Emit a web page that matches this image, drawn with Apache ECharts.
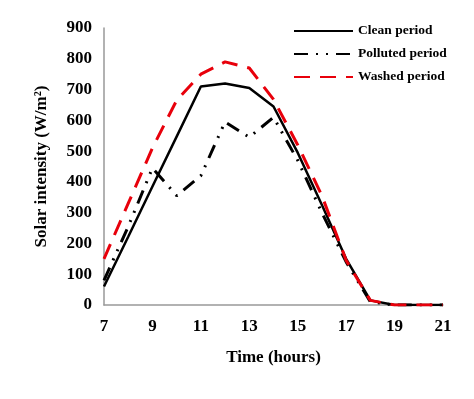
<!DOCTYPE html>
<html>
<head>
<meta charset="utf-8">
<script src="https://cdn.jsdelivr.net/npm/echarts@6/dist/echarts.min.js"></script>
<style>
  html, body { margin: 0; padding: 0; background: #fff; }
  #chart { width: 474px; height: 399px; }
</style>
</head>
<body>
<div id="chart"></div>
<script>
// hours of the day
const hours = ['7', '8', '9', '10', '11', '12', '13', '14', '15', '16', '17', '18', '19', '20', '21']
// solar intensity, W/m2
const clean = [60, 222, 385, 547, 710, 720, 705, 645, 495, 325, 150, 15, 0, 0, 0]
const polluted = [80, 255, 445, 355, 420, 595, 545, 610, 470, 300, 140, 10, 0, 0, 0]
const washed = [150, 330, 510, 665, 750, 790, 770, 668, 520, 355, 145, 15, 0, 0, 0]

const font = 'Liberation Serif'

let option = {
  animation: false,
  textStyle: { fontFamily: font },
  grid: { left: 104, right: 31, top: 28, bottom: 94 },
  legend: {
    left: 288,
    top: 19,
    orient: 'vertical',
    itemWidth: 59,
    itemHeight: 14,
    itemGap: 9,
    itemStyle: { opacity: 0 },
    textStyle: { fontFamily: font, fontWeight: 'bold', fontSize: 13.5, color: '#000' },
    data: ['Clean period', 'Polluted period', 'Washed period']
  },
  xAxis: {
    type: 'category',
    data: hours,
    boundaryGap: false,
    name: 'Time (hours)',
    nameLocation: 'middle',
    nameGap: 44,
    nameTextStyle: { fontFamily: font, fontWeight: 'bold', fontSize: 17, color: '#000' },
    axisLine: { lineStyle: { color: '#999', width: 1.5 } },
    axisTick: { show: false },
    axisLabel: { interval: 1, margin: 13, fontFamily: font, fontWeight: 'bold', fontSize: 17, color: '#000' },
    splitLine: { show: false }
  },
  yAxis: {
    type: 'value',
    min: 0,
    max: 900,
    interval: 100,
    name: 'Solar intensity (W/m²)',
    nameLocation: 'middle',
    nameGap: 54,
    nameTextStyle: { fontFamily: font, fontWeight: 'bold', fontSize: 17, color: '#000' },
    axisLine: { show: true, lineStyle: { color: '#999', width: 1.5 } },
    axisTick: { show: false },
    axisLabel: { margin: 12, fontFamily: font, fontWeight: 'bold', fontSize: 17, color: '#000' },
    splitLine: { show: false }
  },
  series: [
    {
      name: 'Clean period',
      type: 'line',
      data: clean,
      symbol: 'none',
      color: '#000',
      lineStyle: { color: '#000', width: 2.5 }
    },
    {
      name: 'Polluted period',
      type: 'line',
      data: polluted,
      symbol: 'none',
      color: '#000',
      lineStyle: { color: '#000', width: 3, type: [14, 8, 2, 8, 2, 8] }
    },
    {
      name: 'Washed period',
      type: 'line',
      data: washed,
      symbol: 'none',
      color: '#e8000b',
      lineStyle: { color: '#e8000b', width: 3, type: [16, 10] }
    }
  ]
}

let chart = echarts.init(document.getElementById('chart'))
chart.setOption(option)
</script>
</body>
</html>
